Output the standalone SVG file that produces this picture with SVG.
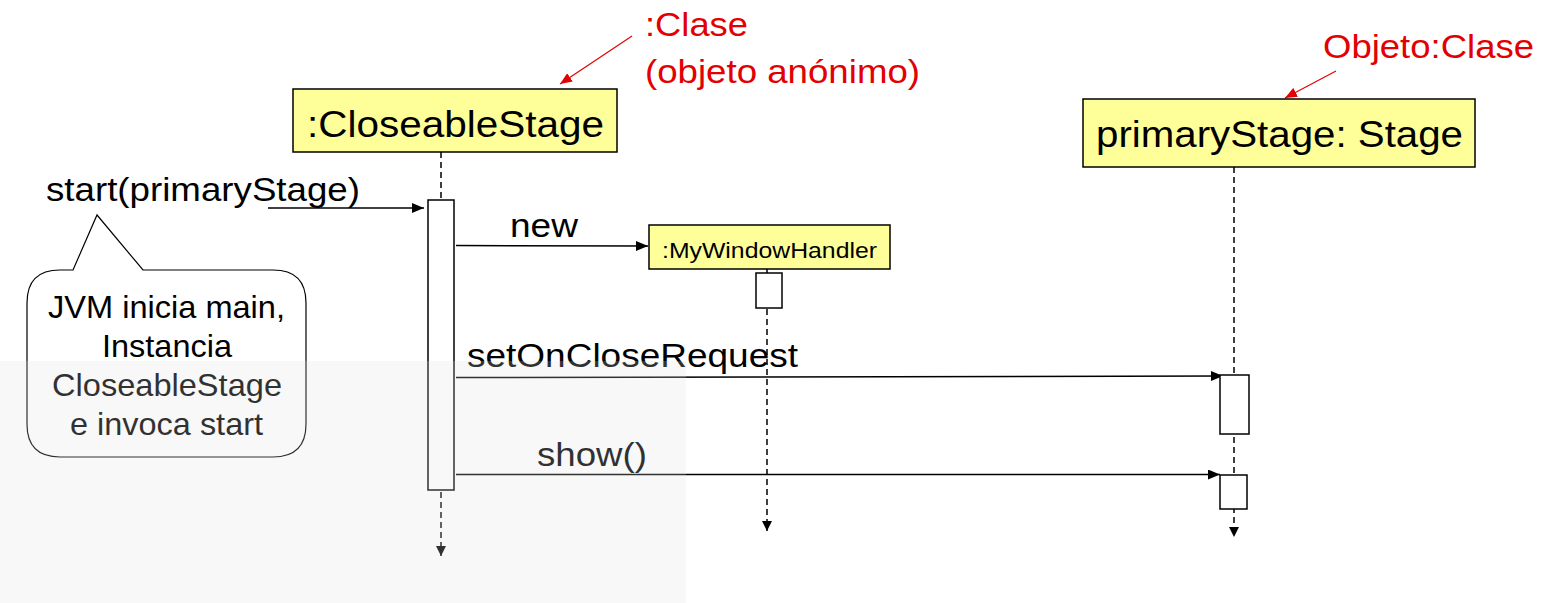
<svg xmlns="http://www.w3.org/2000/svg" width="1547" height="603" viewBox="0 0 1547 603">
  <style>
    text { font-family: "Liberation Sans", Arial, sans-serif; fill: #000; }
    .obj { fill: #ffff99; stroke: #000; stroke-width: 1.5; }
    .act { fill: #fff; stroke: #000; stroke-width: 1.5; }
    .life { stroke: #000; stroke-width: 1.5; stroke-dasharray: 6 4; fill: none; }
    .msg { stroke: #000; stroke-width: 1.5; fill: none; }
    .red { fill: #e30000; }
    .redline { stroke: #e30000; stroke-width: 1.2; fill: none; }
    .big { font-size: 36px; }
    .lbl { font-size: 34px; }
    .note { font-size: 32px; text-anchor: middle; }
  </style>
  <defs>
    <marker id="ah" viewBox="0 0 12 10" refX="12" refY="5" markerWidth="12" markerHeight="10" markerUnits="userSpaceOnUse" orient="auto">
      <path d="M0,0 L12,5 L0,10 z" fill="#000"/>
    </marker>
    <marker id="ahs" viewBox="0 0 10 10" refX="10" refY="5" markerWidth="10" markerHeight="10" markerUnits="userSpaceOnUse" orient="auto">
      <path d="M0,0 L10,5 L0,10 z" fill="#000"/>
    </marker>
    <marker id="ahr" viewBox="0 0 12 10" refX="12" refY="5" markerWidth="12" markerHeight="10" markerUnits="userSpaceOnUse" orient="auto">
      <path d="M0,0 L12,5 L0,10 z" fill="#e30000"/>
    </marker>
  </defs>

  <rect x="0" y="0" width="1547" height="603" fill="#fff"/>

  <g id="connectors">
    <line class="life" x1="441" y1="152" x2="441" y2="556" marker-end="url(#ahs)"/>
    <line class="life" x1="767" y1="269" x2="767" y2="531" marker-end="url(#ahs)"/>
    <line class="life" x1="1234" y1="167" x2="1234" y2="537" marker-end="url(#ahs)"/>
    <line class="msg" x1="268" y1="208" x2="424" y2="208" marker-end="url(#ah)"/>
    <line class="msg" x1="456" y1="245.5" x2="648" y2="246" marker-end="url(#ah)"/>
    <line class="msg" x1="456" y1="377.5" x2="1223" y2="376" marker-end="url(#ah)"/>
    <line class="msg" x1="456" y1="474.5" x2="1220" y2="474.5" marker-end="url(#ah)"/>
    <line class="redline" x1="632" y1="36" x2="560" y2="84" marker-end="url(#ahr)"/>
    <line class="redline" x1="1336" y1="71" x2="1285" y2="98" marker-end="url(#ahr)"/>
  </g>

  <g id="closeableStage">
    <rect class="obj" x="293" y="89" width="324" height="63"/>
    <text class="big" x="307" y="137" textLength="297" lengthAdjust="spacingAndGlyphs">:CloseableStage</text>
    <rect class="act" x="428" y="200" width="26" height="290"/>
  </g>

  <g id="myWindowHandler">
    <rect class="obj" x="649" y="225" width="241" height="44"/>
    <text x="662" y="258" font-size="22" textLength="215" lengthAdjust="spacingAndGlyphs">:MyWindowHandler</text>
    <rect class="act" x="756" y="273" width="26" height="35"/>
  </g>

  <g id="primaryStage">
    <rect class="obj" x="1083" y="99" width="392" height="68"/>
    <text class="big" x="1096" y="147" textLength="367" lengthAdjust="spacingAndGlyphs">primaryStage: Stage</text>
    <rect class="act" x="1220" y="375" width="29" height="59"/>
    <rect class="act" x="1220" y="475" width="27" height="34"/>
  </g>

  <g id="labels">
    <text class="lbl" x="46" y="201" textLength="314" lengthAdjust="spacingAndGlyphs">start(primaryStage)</text>
    <text class="lbl" x="510" y="237" textLength="68" lengthAdjust="spacingAndGlyphs">new</text>
    <text class="lbl" x="467" y="367" textLength="331" lengthAdjust="spacingAndGlyphs">setOnCloseRequest</text>
    <text class="lbl" x="537" y="466" textLength="110" lengthAdjust="spacingAndGlyphs">show()</text>
  </g>

  <g id="note">
    <path d="M60,270 L73,270 L97,215 L143,270 L273,270 Q306,270 306,303 L306,424 Q306,457 273,457 L60,457 Q27,457 27,424 L27,303 Q27,270 60,270 Z" fill="#fff" stroke="#000" stroke-width="1.2"/>
    <text class="note" x="166.5" y="318" textLength="237" lengthAdjust="spacingAndGlyphs">JVM inicia main,</text>
    <text class="note" x="167" y="357" textLength="130" lengthAdjust="spacingAndGlyphs">Instancia</text>
    <text class="note" x="167" y="396" textLength="230" lengthAdjust="spacingAndGlyphs">CloseableStage</text>
    <text class="note" x="166.5" y="435" textLength="193" lengthAdjust="spacingAndGlyphs">e invoca start</text>
  </g>

  <g id="annotations">
    <text class="lbl red" x="645" y="36" textLength="103" lengthAdjust="spacingAndGlyphs">:Clase</text>
    <text class="lbl red" x="645" y="83" textLength="275" lengthAdjust="spacingAndGlyphs">(objeto anónimo)</text>
    <text class="lbl red" x="1323" y="58" textLength="211" lengthAdjust="spacingAndGlyphs">Objeto:Clase</text>
  </g>

  <rect x="0" y="361" width="686" height="242" fill="#e0e0e0" opacity="0.22"/>
</svg>
